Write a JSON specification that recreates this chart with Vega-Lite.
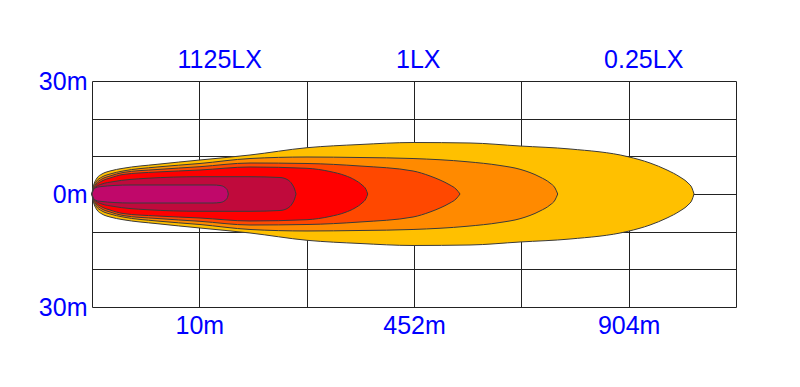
{
  "$schema": "https://vega.github.io/schema/vega-lite/v6.json",
  "width": 644,
  "height": 226,
  "autosize": {"type": "none"},
  "padding": {"left": 92, "top": 81, "right": 64, "bottom": 80},
  "background": "white",
  "config": {
    "view": {"stroke": null},
    "font": "Liberation Sans",
    "axis": {
      "title": null, "grid": true, "gridColor": "#222222", "gridOpacity": 1, "gridWidth": 1,
      "domain": false, "ticks": false, "zindex": 1,
      "labelFontSize": 25, "labelColor": "#0000FF", "labelFlush": false, "labelOverlap": false, "labelBound": false
    }
  },
  "datasets": {
    "beam": [
      {"band": "1", "x": 0, "top": 0, "bottom": 0},
      {"band": "1", "x": 0.005, "top": 0.106, "bottom": -0.106},
      {"band": "1", "x": 0.019, "top": 0.265, "bottom": -0.265},
      {"band": "1", "x": 0.047, "top": 0.425, "bottom": -0.425},
      {"band": "1", "x": 0.093, "top": 0.531, "bottom": -0.531},
      {"band": "1", "x": 0.168, "top": 0.611, "bottom": -0.611},
      {"band": "1", "x": 0.289, "top": 0.682, "bottom": -0.682},
      {"band": "1", "x": 0.606, "top": 0.788, "bottom": -0.788},
      {"band": "1", "x": 1.006, "top": 0.903, "bottom": -0.903},
      {"band": "1", "x": 1.472, "top": 1.035, "bottom": -1.035},
      {"band": "1", "x": 2.003, "top": 1.229, "bottom": -1.229},
      {"band": "1", "x": 2.497, "top": 1.314, "bottom": -1.314},
      {"band": "1", "x": 2.991, "top": 1.367, "bottom": -1.367},
      {"band": "1", "x": 3.522, "top": 1.354, "bottom": -1.354},
      {"band": "1", "x": 3.988, "top": 1.274, "bottom": -1.274},
      {"band": "1", "x": 4.454, "top": 1.195, "bottom": -1.195},
      {"band": "1", "x": 4.994, "top": 0.99, "bottom": -0.99},
      {"band": "1", "x": 5.199, "top": 0.823, "bottom": -0.823},
      {"band": "1", "x": 5.357, "top": 0.637, "bottom": -0.637},
      {"band": "1", "x": 5.478, "top": 0.451, "bottom": -0.451},
      {"band": "1", "x": 5.553, "top": 0.292, "bottom": -0.292},
      {"band": "1", "x": 5.59, "top": 0.159, "bottom": -0.159},
      {"band": "1", "x": 5.609, "top": 0, "bottom": 0},

      {"band": "2", "x": 0, "top": 0, "bottom": 0},
      {"band": "2", "x": 0.009, "top": 0.133, "bottom": -0.133},
      {"band": "2", "x": 0.037, "top": 0.319, "bottom": -0.319},
      {"band": "2", "x": 0.093, "top": 0.451, "bottom": -0.451},
      {"band": "2", "x": 0.168, "top": 0.531, "bottom": -0.531},
      {"band": "2", "x": 0.289, "top": 0.611, "bottom": -0.611},
      {"band": "2", "x": 0.606, "top": 0.717, "bottom": -0.717},
      {"band": "2", "x": 1.006, "top": 0.81, "bottom": -0.81},
      {"band": "2", "x": 1.472, "top": 0.942, "bottom": -0.942},
      {"band": "2", "x": 2.003, "top": 0.982, "bottom": -0.982},
      {"band": "2", "x": 2.497, "top": 0.969, "bottom": -0.969},
      {"band": "2", "x": 2.991, "top": 0.942, "bottom": -0.942},
      {"band": "2", "x": 3.494, "top": 0.857, "bottom": -0.857},
      {"band": "2", "x": 3.801, "top": 0.757, "bottom": -0.757},
      {"band": "2", "x": 3.988, "top": 0.656, "bottom": -0.656},
      {"band": "2", "x": 4.174, "top": 0.451, "bottom": -0.451},
      {"band": "2", "x": 4.267, "top": 0.292, "bottom": -0.292},
      {"band": "2", "x": 4.314, "top": 0.159, "bottom": -0.159},
      {"band": "2", "x": 4.339, "top": 0, "bottom": 0},

      {"band": "3", "x": 0, "top": 0, "bottom": 0},
      {"band": "3", "x": 0.009, "top": 0.106, "bottom": -0.106},
      {"band": "3", "x": 0.037, "top": 0.265, "bottom": -0.265},
      {"band": "3", "x": 0.093, "top": 0.398, "bottom": -0.398},
      {"band": "3", "x": 0.168, "top": 0.478, "bottom": -0.478},
      {"band": "3", "x": 0.289, "top": 0.571, "bottom": -0.571},
      {"band": "3", "x": 0.606, "top": 0.65, "bottom": -0.65},
      {"band": "3", "x": 1.006, "top": 0.725, "bottom": -0.725},
      {"band": "3", "x": 1.472, "top": 0.823, "bottom": -0.823},
      {"band": "3", "x": 2.003, "top": 0.81, "bottom": -0.81},
      {"band": "3", "x": 2.497, "top": 0.743, "bottom": -0.743},
      {"band": "3", "x": 2.991, "top": 0.611, "bottom": -0.611},
      {"band": "3", "x": 3.149, "top": 0.478, "bottom": -0.478},
      {"band": "3", "x": 3.242, "top": 0.372, "bottom": -0.372},
      {"band": "3", "x": 3.335, "top": 0.239, "bottom": -0.239},
      {"band": "3", "x": 3.391, "top": 0.133, "bottom": -0.133},
      {"band": "3", "x": 3.429, "top": 0, "bottom": 0},

      {"band": "4", "x": 0, "top": 0, "bottom": 0},
      {"band": "4", "x": 0.009, "top": 0.093, "bottom": -0.093},
      {"band": "4", "x": 0.037, "top": 0.226, "bottom": -0.226},
      {"band": "4", "x": 0.093, "top": 0.345, "bottom": -0.345},
      {"band": "4", "x": 0.168, "top": 0.425, "bottom": -0.425},
      {"band": "4", "x": 0.289, "top": 0.518, "bottom": -0.518},
      {"band": "4", "x": 0.606, "top": 0.584, "bottom": -0.584},
      {"band": "4", "x": 1.006, "top": 0.637, "bottom": -0.637},
      {"band": "4", "x": 1.472, "top": 0.717, "bottom": -0.717},
      {"band": "4", "x": 2.003, "top": 0.682, "bottom": -0.682},
      {"band": "4", "x": 2.217, "top": 0.597, "bottom": -0.597},
      {"band": "4", "x": 2.357, "top": 0.491, "bottom": -0.491},
      {"band": "4", "x": 2.45, "top": 0.372, "bottom": -0.372},
      {"band": "4", "x": 2.516, "top": 0.239, "bottom": -0.239},
      {"band": "4", "x": 2.553, "top": 0.119, "bottom": -0.119},
      {"band": "4", "x": 2.569, "top": 0, "bottom": 0},

      {"band": "5", "x": 0, "top": 0, "bottom": 0},
      {"band": "5", "x": 0.009, "top": 0.08, "bottom": -0.08},
      {"band": "5", "x": 0.037, "top": 0.186, "bottom": -0.186},
      {"band": "5", "x": 0.093, "top": 0.265, "bottom": -0.265},
      {"band": "5", "x": 0.196, "top": 0.327, "bottom": -0.327},
      {"band": "5", "x": 0.512, "top": 0.417, "bottom": -0.417},
      {"band": "5", "x": 1.006, "top": 0.459, "bottom": -0.459},
      {"band": "5", "x": 1.472, "top": 0.459, "bottom": -0.459},
      {"band": "5", "x": 1.752, "top": 0.438, "bottom": -0.438},
      {"band": "5", "x": 1.826, "top": 0.372, "bottom": -0.372},
      {"band": "5", "x": 1.863, "top": 0.265, "bottom": -0.265},
      {"band": "5", "x": 1.887, "top": 0.133, "bottom": -0.133},
      {"band": "5", "x": 1.901, "top": 0, "bottom": 0},

      {"band": "6", "x": 0, "top": 0, "bottom": 0},
      {"band": "6", "x": 0.009, "top": 0.08, "bottom": -0.08},
      {"band": "6", "x": 0.028, "top": 0.159, "bottom": -0.159},
      {"band": "6", "x": 0.075, "top": 0.194, "bottom": -0.194},
      {"band": "6", "x": 0.354, "top": 0.239, "bottom": -0.239},
      {"band": "6", "x": 1.127, "top": 0.239, "bottom": -0.239},
      {"band": "6", "x": 1.193, "top": 0.226, "bottom": -0.226},
      {"band": "6", "x": 1.239, "top": 0.173, "bottom": -0.173},
      {"band": "6", "x": 1.262, "top": 0.093, "bottom": -0.093},
      {"band": "6", "x": 1.27, "top": 0, "bottom": 0}
    ],
    "labels": [
      {"x": 1.19, "y": 3.56, "t": "1125LX"},
      {"x": 3.04, "y": 3.56, "t": "1LX"},
      {"x": 5.14, "y": 3.56, "t": "0.25LX"}
    ]
  },
  "layer": [
    {
      "data": {"name": "beam"},
      "mark": {"type": "area", "interpolate": "monotone", "stroke": "#3a3a3a", "strokeWidth": 1, "fillOpacity": 1},
      "encoding": {
        "x": {
          "field": "x", "type": "quantitative",
          "scale": {"domain": [0, 6], "nice": false, "zero": false},
          "axis": {
            "values": [0, 1, 2, 3, 4, 5, 6], "labelPadding": 6,
            "labelExpr": "datum.value == 1 ? '10m' : datum.value == 3 ? '452m' : datum.value == 5 ? '904m' : ''"
          }
        },
        "y": {
          "field": "top", "type": "quantitative",
          "scale": {"domain": [-3, 3], "nice": false, "zero": false},
          "axis": {
            "values": [-3, -2, -1, 0, 1, 2, 3], "labelPadding": 5,
            "labelExpr": "datum.value == 0 ? '0m' : abs(datum.value) == 3 ? '30m' : ''"
          }
        },
        "y2": {"field": "bottom"},
        "color": {
          "field": "band", "type": "nominal",
          "scale": {"domain": ["1", "2", "3", "4", "5", "6"], "range": ["#FFC000", "#FF8A00", "#FF4800", "#FF0000", "#C00A3C", "#C0086A"]},
          "legend": null
        }
      }
    },
    {
      "data": {"name": "labels"},
      "mark": {"type": "text", "fontSize": 25, "color": "#0000FF", "align": "center", "baseline": "middle"},
      "encoding": {
        "x": {
          "field": "x", "type": "quantitative",
          "axis": {
            "values": [0, 1, 2, 3, 4, 5, 6], "labelPadding": 6,
            "labelExpr": "datum.value == 1 ? '10m' : datum.value == 3 ? '452m' : datum.value == 5 ? '904m' : ''"
          }
        },
        "y": {
          "field": "y", "type": "quantitative",
          "axis": {
            "values": [-3, -2, -1, 0, 1, 2, 3], "labelPadding": 5,
            "labelExpr": "datum.value == 0 ? '0m' : abs(datum.value) == 3 ? '30m' : ''"
          }
        },
        "text": {"field": "t"}
      }
    }
  ]
}
